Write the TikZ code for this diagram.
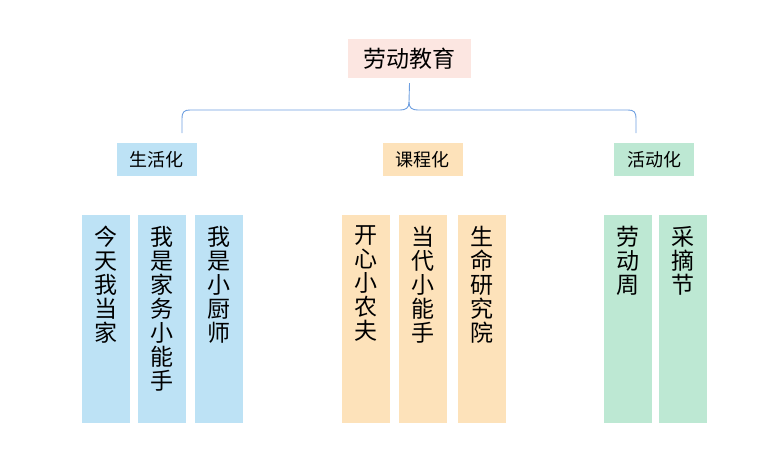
\documentclass[tikz,border=0pt]{standalone}
\usepackage{fontspec}
\setmainfont{Noto Sans CJK SC}
\usetikzlibrary{positioning}
\definecolor{pinkbg}{HTML}{FCE6E1}
\definecolor{bluebg}{HTML}{BDE2F5}
\definecolor{orangebg}{HTML}{FDE2BA}
\definecolor{greenbg}{HTML}{BDE8D3}
\definecolor{bracecol}{HTML}{6E9FE0}
\begin{document}
\begin{tikzpicture}[
        x=1pt, y=-1pt,
        root/.style={rectangle, fill=pinkbg, minimum width=123pt, minimum height=39pt, inner sep=0pt, font=\fontsize{23}{26}\selectfont},
        cat/.style={rectangle, minimum width=80pt, minimum height=33pt, inner sep=0pt, font=\fontsize{18}{20}\selectfont},
        leaf/.style={rectangle, minimum width=48pt, minimum height=208pt, inner sep=0pt},
        leaftext/.style={inner sep=0pt, align=center, font=\fontsize{23}{24}\selectfont},
        brace/.style={draw=bracecol, line width=0.9pt}
    ]
    \useasboundingbox (0,0) rectangle (757,464);

    % Root
    \node[root] (root) at (409.5,58.5) {劳动教育};

    % Categories
    \node[cat, fill=bluebg] (life) at (156.5,159.5) {生活化};
    \node[cat, fill=orangebg] (course) at (422.5,159.5) {课程化};
    \node[cat, fill=greenbg] (activity) at (654,159.5) {活动化};

    % Brace
    \coordinate (bl) at (182,133);
    \coordinate (br) at (636,133);
    \draw[brace] ([yshift=-5pt]root.south) -- (409,102)
        .. controls (409,108) and (406,110) .. (400,110) -- (190,110)
        .. controls (184,110) and (182,112) .. (182,119) -- (bl);
    \draw[brace] (409,102)
        .. controls (409,108) and (412,110) .. (418,110) -- (628,110)
        .. controls (634,110) and (636,112) .. (636,119) -- (br);

    % Leaves: life
    \node[leaf, fill=bluebg] (l1) at (105.5,319) {};
    \node[leaf, fill=bluebg] (l2) at (162,319) {};
    \node[leaf, fill=bluebg] (l3) at (218.5,319) {};
    \node[leaftext, below=11pt of l1.north] {今\\天\\我\\当\\家};
    \node[leaftext, below=11pt of l2.north] {我\\是\\家\\务\\小\\能\\手};
    \node[leaftext, below=11pt of l3.north] {我\\是\\小\\厨\\师};

    % Leaves: course
    \node[leaf, fill=orangebg] (c1) at (366,319) {};
    \node[leaf, fill=orangebg] (c2) at (423,319) {};
    \node[leaf, fill=orangebg] (c3) at (482,319) {};
    \node[leaftext, below=11pt of c1.north] {开\\心\\小\\农\\夫};
    \node[leaftext, below=11pt of c2.north] {当\\代\\小\\能\\手};
    \node[leaftext, below=11pt of c3.north] {生\\命\\研\\究\\院};

    % Leaves: activity
    \node[leaf, fill=greenbg] (a1) at (628,319) {};
    \node[leaf, fill=greenbg] (a2) at (683,319) {};
    \node[leaftext, below=11pt of a1.north] {劳\\动\\周};
    \node[leaftext, below=11pt of a2.north] {采\\摘\\节};

\end{tikzpicture}
\end{document}
